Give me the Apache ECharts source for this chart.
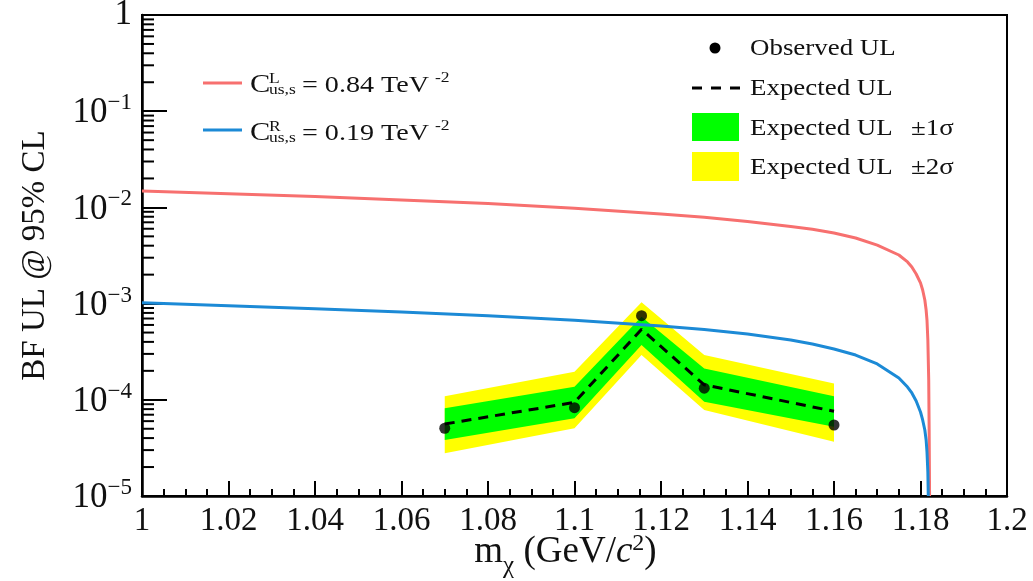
<!DOCTYPE html>
<html>
<head>
<meta charset="utf-8">
<script src="https://cdn.jsdelivr.net/npm/echarts@6/dist/echarts.min.js"></script>
<style>
  html, body { margin: 0; padding: 0; background: #fff; }
  #chart { width: 1033px; height: 581px; }
</style>
</head>
<body>
<div id="chart"></div>
<script>
// ---- scan results: upper limits on the branching fraction vs. m_chi ----
const massPoints    = [1.07, 1.10, 1.1155, 1.13, 1.16];
const observedUL    = [5.06e-5, 8.28e-5, 7.48e-4, 1.32e-4, 5.47e-5];
const expectedUL    = [5.6e-5, 9.4e-5, 5.4e-4, 1.43e-4, 7.6e-5];
const expected1Low  = [3.82e-5, 6.42e-5, 3.71e-4, 9.55e-5, 5.25e-5];
const expected1High = [8.15e-5, 1.37e-4, 7.3e-4, 2.12e-4, 1.09e-4];
const expected2Low  = [2.78e-5, 5.06e-5, 2.92e-4, 7.83e-5, 3.67e-5];
const expected2High = [1.09e-4, 1.96e-4, 1.03e-3, 2.92e-4, 1.48e-4];

// ---- theory predictions for two Wilson-coefficient choices ----
const leftMass = [1.00, 1.02, 1.04, 1.06, 1.08, 1.10, 1.12, 1.13, 1.14, 1.15, 1.155, 1.16, 1.165,
                  1.17, 1.175, 1.177, 1.178, 1.179, 1.180, 1.1805, 1.181, 1.1813, 1.1815, 1.1817,
                  1.1819, 1.1820, 1.1821];
const leftBF   = [1.481e-2, 1.384e-2, 1.295e-2, 1.197e-2, 1.098e-2, 9.79e-3, 8.54e-3, 7.89e-3, 7.13e-3,
                  6.33e-3, 5.93e-3, 5.42e-3, 4.81e-3, 4.06e-3, 3.20e-3, 2.71e-3, 2.40e-3, 2.03e-3,
                  1.64e-3, 1.385e-3, 1.09e-3, 8.58e-4, 6.75e-4, 4.18e-4, 1.61e-4, 4.85e-5, 1e-5];
const rightMass = [1.00, 1.02, 1.04, 1.06, 1.08, 1.10, 1.12, 1.13, 1.14, 1.15, 1.155, 1.16, 1.165,
                   1.17, 1.175, 1.177, 1.178, 1.179, 1.180, 1.1805, 1.181, 1.1813, 1.1815, 1.1817,
                   1.1818];
const rightBF   = [1.022e-3, 9.51e-4, 8.83e-4, 8.18e-4, 7.47e-4, 6.71e-4, 5.85e-4, 5.38e-4, 4.83e-4,
                   4.18e-4, 3.80e-4, 3.37e-4, 2.92e-4, 2.36e-4, 1.685e-4, 1.358e-4, 1.177e-4, 9.72e-5,
                   7.47e-5, 6.17e-5, 4.85e-5, 3.82e-5, 2.87e-5, 1.78e-5, 1e-5];

// ---- axis tick labels ----
const xTickLabels = ['1', '1.02', '1.04', '1.06', '1.08', '1.1', '1.12', '1.14', '1.16', '1.18', '1.2'];
const yTickLabels = ['10^\u22125', '10^\u22124', '10^\u22123', '10^\u22122', '10^\u22121', '1'];
const yMinorTicks = [];
for (let d = -5; d < 0; d++) for (let k = 2; k <= 9; k++) yMinorTicks.push(k * Math.pow(10, d));

const SERIF = '"Liberation Serif", "Times New Roman", serif';
const INK = '#111';
const RED = '#f7706f';
const BLUE = '#1c8ad6';

function bandItem(low, high, color) {
  return function (params, api) {
    if (params.dataIndex !== 0) return null;
    const pts = [];
    for (let i = 0; i < massPoints.length; i++) pts.push(api.coord([massPoints[i], high[i]]));
    for (let i = massPoints.length - 1; i >= 0; i--) pts.push(api.coord([massPoints[i], low[i]]));
    return { type: 'polygon', shape: { points: pts }, style: { fill: color } };
  };
}

function legendText(x, y, text, size) {
  return {
    type: 'text', x: x, y: y, scaleX: 1.17, silent: true,
    style: { text: text, fontSize: size, fontFamily: SERIF, fill: INK, verticalAlign: 'middle' }
  };
}

const chart = echarts.init(document.getElementById('chart'));

chart.setOption({
  animation: false,
  backgroundColor: '#fff',
  grid: {
    left: 142, right: 26, top: 15, bottom: 85,
    show: true, borderColor: '#000', borderWidth: 2, backgroundColor: 'transparent',
    outerBoundsMode: 'none'
  },
  xAxis: {
    type: 'value', min: 1.0, max: 1.2, interval: 0.02,
    axisLine: { show: true, lineStyle: { color: '#000', width: 2.5 } },
    axisTick: { show: true, inside: true, length: 15, lineStyle: { color: '#000', width: 2 } },
    minorTick: { show: true, splitNumber: 4, length: 7, lineStyle: { color: '#000', width: 2 } },
    splitLine: { show: false },
    axisLabel: {
      margin: 9, color: INK, fontFamily: SERIF, fontSize: 33,
      formatter: v => xTickLabels[Math.round((v - 1) / 0.02)]
    },
    name: '{t|m}{sub|\u03c7}{t| (GeV/}{it|c}{sup|2}{t|)}',
    nameLocation: 'middle', nameGap: 36, nameMoveOverlap: false,
    nameTextStyle: {
      padding: [0, 18, 0, 0],
      rich: {
        t: { fontFamily: SERIF, fontSize: 37, color: INK, verticalAlign: 'bottom' },
        it: { fontFamily: SERIF, fontSize: 37, fontStyle: 'italic', color: INK, verticalAlign: 'bottom' },
        sub: { fontFamily: SERIF, fontSize: 25, color: INK, verticalAlign: 'bottom', padding: [0, 0, -8, 0] },
        sup: { fontFamily: SERIF, fontSize: 24, color: INK, verticalAlign: 'bottom', padding: [0, 0, 15, 0] }
      }
    }
  },
  yAxis: {
    type: 'log', logBase: 10, min: 1e-5, max: 1, splitNumber: 5,
    axisLine: { show: true, lineStyle: { color: '#000', width: 2.5 } },
    axisTick: { show: true, inside: true, length: 25, lineStyle: { color: '#000', width: 2 } },
    splitLine: { show: false },
    axisLabel: {
      margin: 10,
      formatter: v => {
        const s = yTickLabels[Math.round(Math.log10(v)) + 5];
        const parts = s.split('^');
        return parts.length > 1 ? '{b|' + parts[0] + '}{e|' + parts[1] + '}' : '{b|' + parts[0] + '}';
      },
      rich: {
        b: { fontFamily: SERIF, fontSize: 35, color: INK, verticalAlign: 'bottom' },
        e: { fontFamily: SERIF, fontSize: 23, color: INK, verticalAlign: 'bottom', padding: [0, 0, 16, 0] }
      }
    },
    name: 'BF UL @ 95% CL', nameLocation: 'middle', nameGap: 90, nameRotate: 90, nameMoveOverlap: false,
    nameTextStyle: { fontFamily: SERIF, fontSize: 33, color: INK }
  },
  series: [
    {
      name: 'Expected UL \u00b12\u03c3', type: 'custom', z: 1, silent: true,
      data: massPoints.map((m, i) => [m, expected2Low[i], expected2High[i]]),
      encode: { x: 0, y: [1, 2] },
      renderItem: bandItem(expected2Low, expected2High, '#ffff00')
    },
    {
      name: 'Expected UL \u00b11\u03c3', type: 'custom', z: 2, silent: true,
      data: massPoints.map((m, i) => [m, expected1Low[i], expected1High[i]]),
      encode: { x: 0, y: [1, 2] },
      renderItem: bandItem(expected1Low, expected1High, '#00ff00')
    },
    {
      name: 'C_L', type: 'line', z: 3, showSymbol: false, smooth: false,
      data: leftMass.map((m, i) => [m, leftBF[i]]),
      lineStyle: { color: RED, width: 3, join: 'round' }
    },
    {
      name: 'C_R', type: 'line', z: 3, showSymbol: false, smooth: false,
      data: rightMass.map((m, i) => [m, rightBF[i]]),
      lineStyle: { color: BLUE, width: 3, join: 'round' }
    },
    {
      name: 'Expected UL', type: 'line', z: 4, showSymbol: false,
      data: massPoints.map((m, i) => [m, expectedUL[i]]),
      lineStyle: { color: '#000', width: 3, type: [10, 7] }
    },
    {
      name: 'Observed UL', type: 'scatter', z: 5, symbol: 'circle', symbolSize: 11,
      data: massPoints.map((m, i) => [m, observedUL[i]]),
      itemStyle: { color: '#000' }
    },
    {
      name: 'y minor ticks', type: 'custom', z: 10, silent: true,
      data: yMinorTicks.map(v => [1.0, v]),
      renderItem: (params, api) => {
        const p = api.coord([api.value(0), api.value(1)]);
        return { type: 'line', shape: { x1: p[0], y1: p[1], x2: p[0] + 12, y2: p[1] },
                 style: { stroke: '#000', lineWidth: 2 } };
      }
    }
  ],
  graphic: [
    // theory curve keys
    { type: 'line', shape: { x1: 203, y1: 83, x2: 242, y2: 83 }, style: { stroke: RED, lineWidth: 3 } },
    legendText(250, 85, 'C', 26),
    legendText(269, 79, 'L', 15),
    legendText(269, 90, 'us,s', 15),
    legendText(302, 86, '= 0.84 TeV', 24),
    legendText(435, 78, '-2', 15),
    { type: 'line', shape: { x1: 203, y1: 130, x2: 242, y2: 130 }, style: { stroke: BLUE, lineWidth: 3 } },
    legendText(250, 133, 'C', 26),
    legendText(269, 127, 'R', 15),
    legendText(269, 138, 'us,s', 15),
    legendText(302, 134, '= 0.19 TeV', 24),
    legendText(435, 126, '-2', 15),
    // limit keys
    { type: 'circle', shape: { cx: 715, cy: 48, r: 5.5 }, style: { fill: '#000' } },
    legendText(750, 49, 'Observed UL', 23),
    { type: 'line', shape: { x1: 692, y1: 88, x2: 740, y2: 88 }, style: { stroke: '#000', lineWidth: 3, lineDash: [10, 9] } },
    legendText(750, 89, 'Expected UL', 23),
    { type: 'rect', shape: { x: 692, y: 113, width: 47, height: 28 }, style: { fill: '#00ff00' } },
    legendText(750, 129, 'Expected UL', 23),
    legendText(911, 129, '\u00b11\u03c3', 23),
    { type: 'rect', shape: { x: 692, y: 152, width: 47, height: 29 }, style: { fill: '#ffff00' } },
    legendText(750, 168, 'Expected UL', 23),
    legendText(911, 168, '\u00b12\u03c3', 23)
  ]
});
</script>
</body>
</html>
